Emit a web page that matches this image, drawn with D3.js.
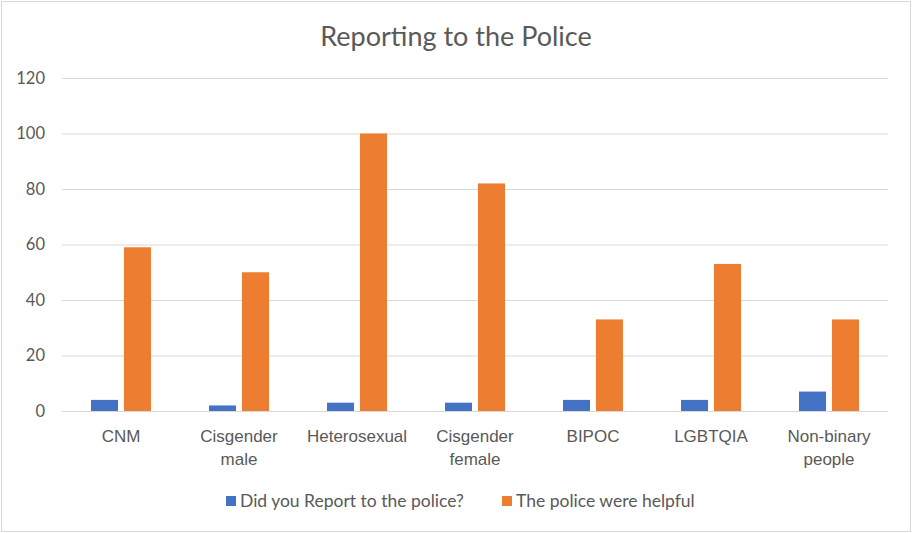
<!DOCTYPE html>
<html><head><meta charset="utf-8">
<script src="https://cdn.jsdelivr.net/npm/d3@7"></script>
<style>body{margin:0;background:#fff;}svg{display:block;font-family:Lato,"Open Sans",sans-serif;}</style>
</head><body><svg id="c" width="912" height="533"></svg>
<script>
const categories = [["CNM"],["Cisgender","male"],["Heterosexual"],["Cisgender","female"],["BIPOC"],["LGBTQIA"],["Non-binary","people"]];
const reported = [4, 2, 3, 3, 4, 4, 7];
const helpful = [59, 50, 100, 82, 33, 53, 33];
const seriesNames = ["Did you Report to the police?", "The police were helpful"];
const colors = ["#4472C4", "#ED7D31"];
const yTicks = [0, 20, 40, 60, 80, 100, 120];

const svg = d3.select("#c");
svg.append("rect").attr("x",1.5).attr("y",1.5).attr("width",909).attr("height",530).attr("fill","#fff").attr("stroke","#d9d9d9");

const x = d3.scaleBand().domain(d3.range(categories.length)).range([62, 888]);
const y = d3.scaleLinear().domain([0, 120]).range([411, 78]);
const inner = d3.scaleBand().domain([0,1]).range([0, x.bandwidth()]).paddingInner(0.18).paddingOuter(0.88);

svg.append("text").attr("x",456).attr("y",46).attr("text-anchor","middle").attr("font-size",27).attr("fill","#595959").text("Reporting to the Police");

const yAxis = svg.append("g").attr("transform","translate(62,0)")
  .call(d3.axisLeft(y).tickValues(yTicks).tickSize(-826).tickPadding(17));
yAxis.select(".domain").remove();
yAxis.selectAll(".tick line").attr("stroke","#d9d9d9").attr("stroke-width",1);
yAxis.selectAll(".tick text").attr("fill","#595959").attr("font-size",16.5).attr("font-family","Lato,'Open Sans',sans-serif");

const data = [reported, helpful];
data.forEach((vals, s) => {
  svg.append("g").selectAll("rect").data(vals).join("rect")
    .attr("x", (d,i) => x(i) + inner(s))
    .attr("width", inner.bandwidth())
    .attr("y", d => y(d))
    .attr("height", d => y(0) - y(d))
    .attr("fill", colors[s]);
});
svg.append("line").attr("x1",62).attr("x2",888).attr("y1",y(0)+0.5).attr("y2",y(0)+0.5).attr("stroke","#d9d9d9");

const xAxis = svg.append("g").attr("transform",`translate(0,${y(0)})`)
  .call(d3.axisBottom(x).tickSize(0).tickFormat(""));
xAxis.select(".domain").remove();
xAxis.selectAll(".tick").each(function(d){
  const t = d3.select(this).append("text").attr("fill","#595959").attr("font-size",17).attr("text-anchor","middle");
  categories[d].forEach((line,k)=>{
    t.append("tspan").attr("x",0).attr("y",31 + k*23).text(line);
  });
});

const legendX = [226, 502];
seriesNames.forEach((n,s)=>{
  svg.append("rect").attr("x",legendX[s]).attr("y",496).attr("width",10).attr("height",10).attr("fill",colors[s]);
  svg.append("text").attr("x",legendX[s]+14).attr("y",507).attr("font-size",17.5).attr("fill","#595959").text(n);
});
</script></body></html>
